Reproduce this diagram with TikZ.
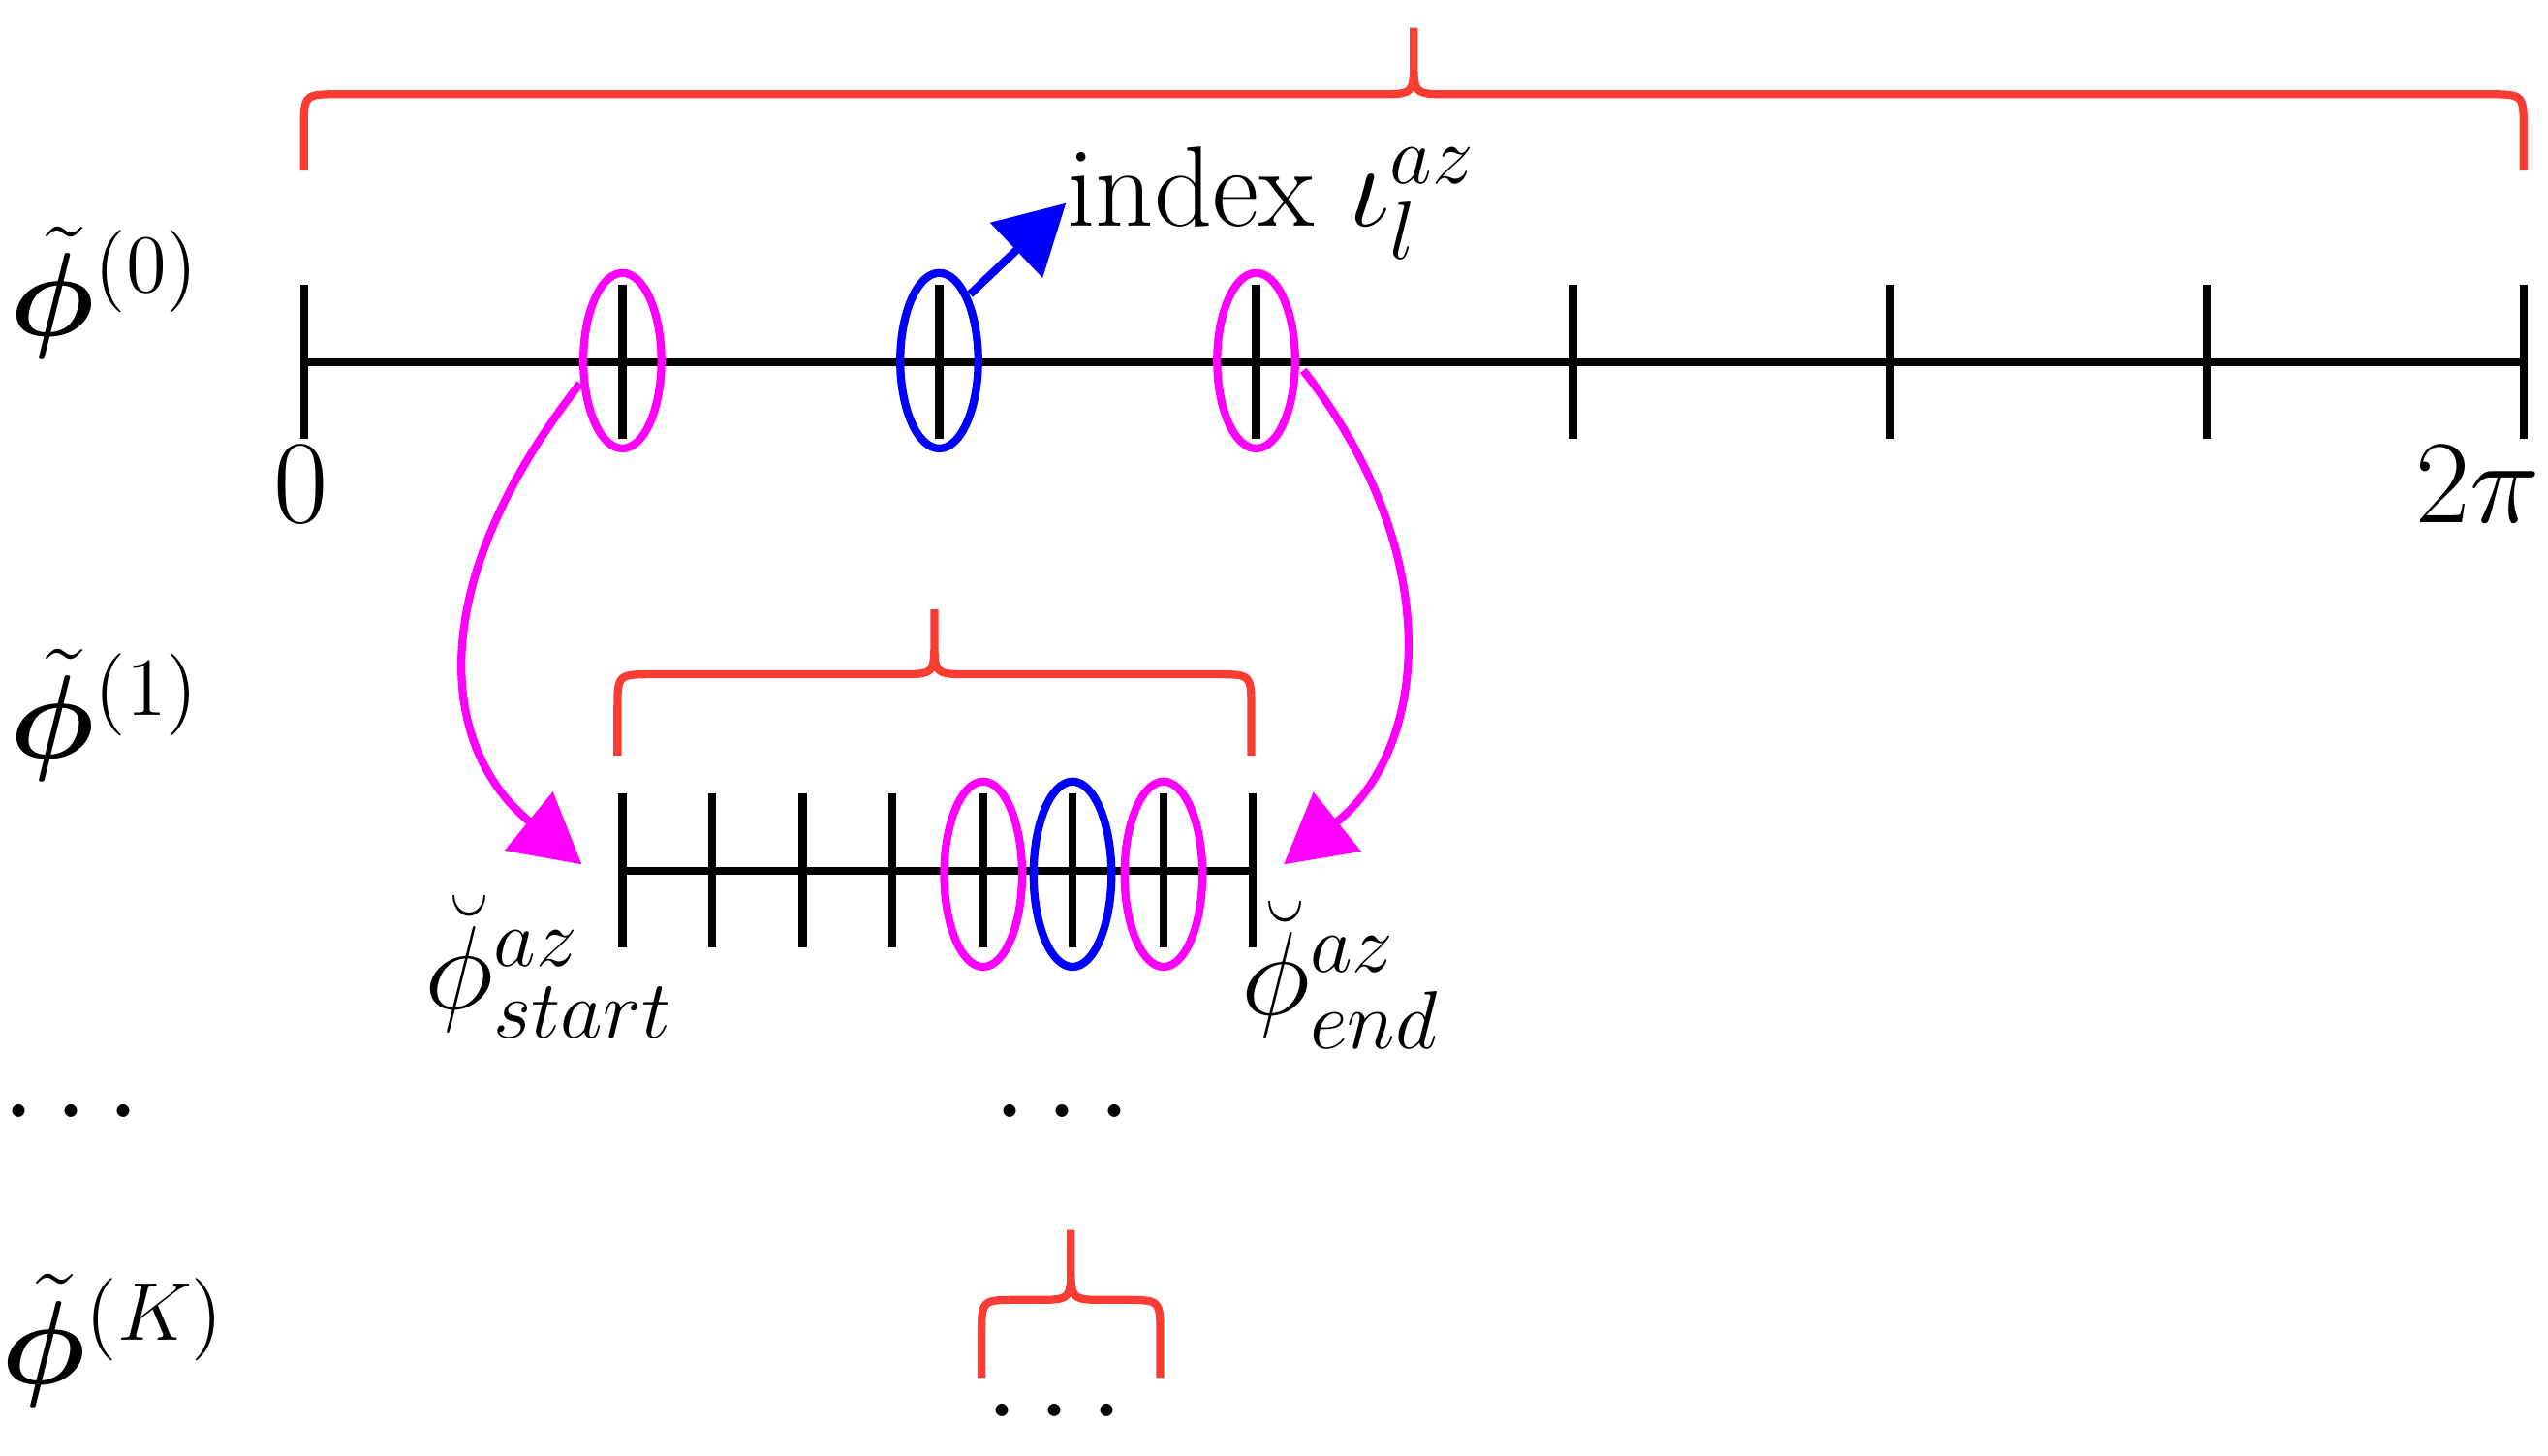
\documentclass[tikz,border=0pt]{standalone}
\usepackage{amsmath,bm}
\usetikzlibrary{arrows.meta}
\definecolor{br}{RGB}{250,60,50}
\definecolor{mg}{RGB}{255,0,255}
\definecolor{bl}{RGB}{0,0,255}
\tikzset{ax/.style={line width=1.4pt},
 brc/.style={br,line width=1.4pt},
 ell/.style={line width=1.4pt},
 lab/.style={inner sep=0pt,font=\fontsize{20}{24}\selectfont},
 arr/.style={line width=1.4pt,-{Triangle[length=12pt,width=13pt]}}}
\newcommand{\mybrace}[5]{% x1 x2 yb yh yt
 \pgfmathsetmacro{\xm}{(#1+#2)/2}
 \draw[brc] (#1,#3) -- (#1,#4+22) .. controls (#1,#4) .. (#1+22,#4) -- (\xm-22,#4) .. controls (\xm,#4) .. (\xm,#4-22) -- (\xm,#5)
 (\xm,#4-22) .. controls (\xm,#4) .. (\xm+22,#4) -- (#2-22,#4) .. controls (#2,#4) .. (#2,#4+22) -- (#2,#3);}
\begin{document}
\begin{tikzpicture}[x=0.01cm,y=-0.01cm]
\useasboundingbox (0,0) rectangle (1568,896);
% braces
\mybrace{187}{1553}{105}{58}{17}
\mybrace{380}{770}{465}{415}{375}
\mybrace{604}{714}{848}{800}{757}
% row labels
\node[lab] (p0) at (65,180) {$\tilde{\bm\phi}^{(0)}$};
\node[lab] (p1) at (65,440) {$\tilde{\bm\phi}^{(1)}$};
\node[lab] (pk) at (70,825) {$\tilde{\bm\phi}^{(K)}$};
% axis 0
\coordinate (a0) at (187,223); \coordinate (a1) at (1553,223);
\draw[ax] (a0) -- (a1);
\foreach \x in {187,383,578,773,968,1163,1358,1553} \draw[ax] (\x,175) -- (\x,270);
\node[lab] (z) at (185,298) {$0$};
\node[lab] (tp) at (1525,298) {$2\pi$};
\draw[ell,mg] (383,222) ellipse (24 and 54);
\draw[ell,bl] (578,222) ellipse (24 and 54);
\draw[ell,mg] (773,222) ellipse (24 and 54);
\node[lab,anchor=west] (idx) at (656,125) {index $\iota_l^{az}$};
\coordinate (bs) at (597,181);
\draw[arr,bl] (bs) -- (idx.west);
% axis 1
\draw[ax] (383,536) -- (771,536);
\foreach \x in {383,438,494,549,605,660,716,771} \draw[ax] (\x,488) -- (\x,583);
\draw[ell,mg] (605,538) ellipse (24 and 57);
\draw[ell,bl] (660,538) ellipse (24 and 57);
\draw[ell,mg] (716,538) ellipse (24 and 57);
\node[lab] (st) at (338,595) {$\breve{\phi}^{az}_{start}$};
\node[lab] (en) at (825,600) {$\breve{\phi}^{az}_{end}$};
% magenta arrows
\coordinate (m1) at (357,236); \coordinate (m1e) at (358,532);
\coordinate (m2) at (802,228); \coordinate (m2e) at (790,532);
\draw[arr,mg] (m1) .. controls (260,360) and (270,460) .. (m1e);
\draw[arr,mg] (m2) .. controls (890,340) and (880,460) .. (m2e);
% dots
\node[lab] (d1) at (50,686) {$\cdots$};
\node[lab] (d2) at (660,686) {$\cdots$};
\node[lab] (d3) at (655,870) {$\cdots$};
\end{tikzpicture}
\end{document}
